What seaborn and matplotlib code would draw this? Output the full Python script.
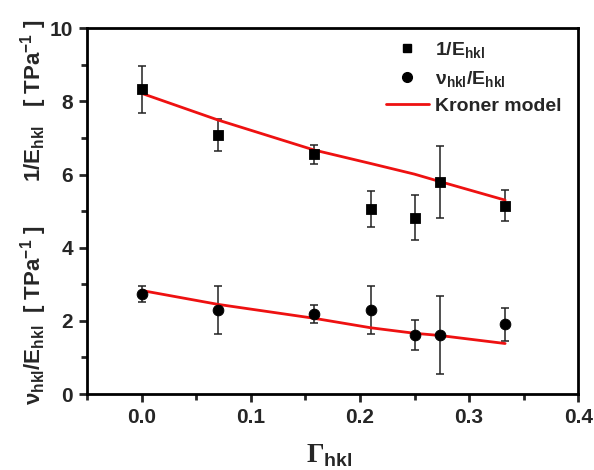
import matplotlib
matplotlib.use("Agg")
import matplotlib.pyplot as plt
from matplotlib.lines import Line2D
from matplotlib.ticker import MultipleLocator
import seaborn as sns
import pandas as pd

# ---- data ----
gamma = [0.0, 0.07, 0.158, 0.21, 0.25, 0.273, 0.333]
inv_E = [8.33, 7.08, 6.55, 5.06, 4.82, 5.79, 5.15]
inv_E_err = [0.65, 0.43, 0.27, 0.50, 0.62, 0.98, 0.42]
nu_E = [2.74, 2.29, 2.18, 2.29, 1.61, 1.61, 1.90]
nu_E_err = [0.22, 0.65, 0.24, 0.65, 0.42, 1.07, 0.46]
kroner_inv_E = [8.22, 7.49, 6.67, 6.30, 6.01, 5.81, 5.30]
kroner_nu_E = [2.83, 2.45, 2.07, 1.81, 1.66, 1.60, 1.38]

x_ticks = [0.0, 0.1, 0.2, 0.3, 0.4]
y_ticks = [0, 2, 4, 6, 8, 10]

sns.set_theme(style="ticks")
plt.rcParams['font.family'] = ['Liberation Sans', 'DejaVu Sans']
plt.rcParams['font.weight'] = 'bold'
plt.rcParams['mathtext.fontset'] = 'custom'
plt.rcParams['mathtext.rm'] = 'Liberation Serif'
plt.rcParams['mathtext.bf'] = 'Liberation Sans:bold'
plt.rcParams['mathtext.it'] = 'Liberation Sans:bold'
plt.rcParams['mathtext.sf'] = 'Liberation Sans:bold'

df = pd.DataFrame({"gamma": gamma, "invE": inv_E, "invE_err": inv_E_err,
                   "nuE": nu_E, "nuE_err": nu_E_err,
                   "k1": kroner_inv_E, "k2": kroner_nu_E})

fig = plt.figure(figsize=(5.94, 4.70), dpi=100)
ax = fig.add_axes([0.1465, 0.1617, 0.827, 0.7783])

ax.errorbar(df["gamma"], df["invE"], yerr=df["invE_err"], fmt='none',
            ecolor='#222222', elinewidth=1.1, capsize=3, capthick=1.1, zorder=2)
ax.errorbar(df["gamma"], df["nuE"], yerr=df["nuE_err"], fmt='none',
            ecolor='#222222', elinewidth=1.1, capsize=3, capthick=1.1, zorder=2)

sns.lineplot(data=df, x="gamma", y="k1", color='#ee1111', linewidth=2, ax=ax, zorder=3)
sns.lineplot(data=df, x="gamma", y="k2", color='#ee1111', linewidth=2, ax=ax, zorder=3)

sns.scatterplot(data=df, x="gamma", y="invE", marker='s', s=55, color='black',
                edgecolor='black', ax=ax, zorder=4)
sns.scatterplot(data=df, x="gamma", y="nuE", marker='o', s=60, color='black',
                edgecolor='black', ax=ax, zorder=4)

ax.set_xlim(-0.05, 0.4)
ax.set_ylim(0, 10)
ax.set_xticks(x_ticks)
ax.set_xticklabels([f"{v:.1f}" for v in x_ticks])
ax.set_yticks(y_ticks)
ax.set_yticklabels([str(v) for v in y_ticks])
ax.xaxis.set_minor_locator(MultipleLocator(0.05))
ax.yaxis.set_minor_locator(MultipleLocator(1))
ax.tick_params(axis='both', which='major', direction='out', length=6, width=2,
               labelsize=15, top=False, right=False, pad=4)
ax.tick_params(axis='both', which='minor', direction='out', length=4, width=2,
               top=False, right=False)
for lab in ax.get_xticklabels() + ax.get_yticklabels():
    lab.set_fontweight('bold')
for sp in ax.spines.values():
    sp.set_linewidth(2)
    sp.set_color('black')
    sp.set_visible(True)

ax.set_xlabel("")
ax.set_ylabel("")

fig.text(0.555, 0.03, r"$\mathrm{\Gamma}_{\mathbf{hkl}}$", fontsize=20,
         ha='center', va='center')
fig.text(0.056, 0.785, r"$\mathbf{1/E_{hkl}}$   [ TPa$^{\mathbf{-1}}$ ]", fontsize=16,
         rotation=90, ha='center', va='center', fontweight='bold')
fig.text(0.056, 0.33, r"$\mathbf{ν_{hkl}/E_{hkl}}$  [ TPa$^{\mathbf{-1}}$ ]", fontsize=16,
         rotation=90, ha='center', va='center', fontweight='bold')

handles = [
    Line2D([], [], marker='s', color='black', linestyle='none', markersize=6),
    Line2D([], [], marker='o', color='black', linestyle='none', markersize=7),
    Line2D([], [], color='#ee1111', linewidth=2),
]
labels = [r"$\mathbf{1/E_{hkl}}$", r"$\mathbf{ν_{hkl}/E_{hkl}}$", "Kroner model"]
leg = ax.legend(handles, labels, loc='upper left', bbox_to_anchor=(0.585, 1.0),
                frameon=False, fontsize=14, handlelength=2.2, labelspacing=0.45,
                borderaxespad=0.2, handletextpad=0.3)
for t in leg.get_texts():
    t.set_fontweight('bold')

fig.savefig("out.png", dpi=100)
